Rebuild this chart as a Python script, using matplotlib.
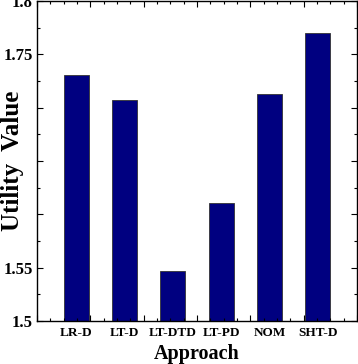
import numpy as np
import matplotlib
matplotlib.use("Agg")
import matplotlib.pyplot as plt
from matplotlib.ticker import MultipleLocator, FixedLocator, FixedFormatter

approaches = ['LR-D', 'LT-D', 'LT-DTD', 'LT-PD', 'NOM', 'SHT-D']
utility = [1.731, 1.707, 1.547, 1.611, 1.713, 1.770]

y_ticks = [1.5, 1.55, 1.6, 1.65, 1.7, 1.75, 1.8]
y_labels = ['1.5', '1.55', '', '', '', '1.75', '1.8']

plt.rcParams['font.family'] = ['Liberation Serif', 'DejaVu Serif']
plt.rcParams['font.weight'] = 'bold'

fig = plt.figure(figsize=(3.58, 3.64), dpi=100)
ax = fig.add_axes([0.1034, 0.118, 0.894, 0.879])

# bars sit on a continuous axis, like the matlab original
pos = 0.74 + 0.904 * np.arange(len(approaches))
ax.bar(pos, np.array(utility) - 1.5, width=0.47, bottom=1.5,
       color='#000080', edgecolor='#333333', linewidth=0.6)

ax.set_xlim(0, 6)
ax.set_ylim(1.5, 1.8)

ax.xaxis.set_major_locator(MultipleLocator(1))
ax.xaxis.set_minor_locator(MultipleLocator(0.25))
ax.set_xticklabels([])
ax.yaxis.set_major_locator(FixedLocator(y_ticks))
ax.yaxis.set_major_formatter(FixedFormatter(y_labels))
ax.yaxis.set_minor_locator(MultipleLocator(0.025))

ax.tick_params(which='both', direction='in', top=True, right=True, width=0.8)
ax.tick_params(which='major', length=4)
ax.tick_params(which='minor', length=2)
ax.tick_params(axis='y', labelsize=12, pad=3)

for p, name in zip(pos, approaches):
    ax.text(p, -0.018, name, transform=ax.get_xaxis_transform(),
            ha='center', va='top', fontsize=9.5, fontweight='bold')

for s in ax.spines.values():
    s.set_linewidth(1.0)

ax.set_xlabel('Approach', fontsize=14.5, fontweight='bold')
ax.xaxis.label.set_va('center')
ax.xaxis.set_label_coords(0.5, -0.102)
ax.set_ylabel('Utility  Value', fontsize=18, fontweight='bold')
ax.yaxis.label.set_va('center')
ax.yaxis.set_label_coords(-0.078, 0.5)

fig.savefig('out.png', dpi=100)
